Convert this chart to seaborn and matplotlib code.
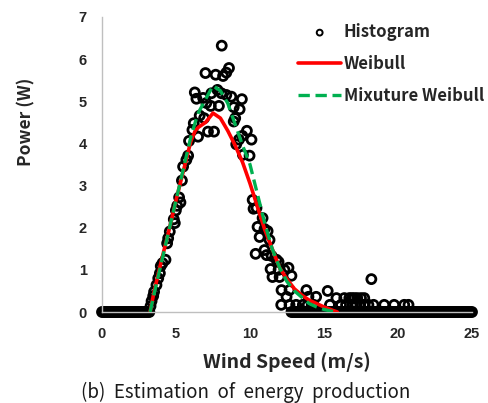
import numpy as np
import pandas as pd
import matplotlib
matplotlib.use("Agg")
import matplotlib.pyplot as plt
import seaborn as sns

# ---- data ----
hist_x = [3.28, 3.35, 3.46, 3.52, 3.68, 3.80, 3.91, 3.97, 4.09, 4.29, 4.40, 4.47, 4.58, 4.85, 4.92,
          4.99, 5.08, 5.21, 5.30, 5.40, 5.48, 5.70, 5.82, 5.88, 6.11, 6.20, 6.49, 6.60, 6.90, 6.27,
          6.38, 6.83, 6.99, 7.05, 7.16, 7.35, 7.39, 7.57, 7.68, 7.80, 7.90, 8.07, 8.09, 8.18, 8.40,
          8.58, 8.40, 8.74, 8.90, 9.00, 8.90, 9.07, 9.25, 9.30, 9.45, 9.48, 9.52, 9.79, 9.97, 10.10,
          10.18, 10.24, 10.44, 10.85, 10.51, 10.98, 10.65, 11.19, 11.32, 10.98, 10.38, 11.12, 11.46,
          11.79, 11.93, 11.39, 11.52, 11.93, 12.00, 12.33, 12.60, 12.80, 12.13, 12.67, 12.47,
          13.81, 13.95, 14.47, 15.25, 15.84, 16.37, 16.71, 16.88, 17.05, 17.25, 17.50, 17.72, 18.20,
          12.11, 12.67, 13.12, 13.57, 13.90, 14.30, 15.40, 16.15, 16.49, 16.93, 17.20, 17.45, 17.70,
          18.00, 18.35, 19.07, 19.74, 20.42, 20.71]
hist_y = [0.14, 0.26, 0.38, 0.48, 0.64, 0.80, 0.92, 1.09, 1.16, 1.24, 1.63, 1.75, 1.91, 2.20, 2.11,
          2.41, 2.52, 2.72, 2.60, 3.12, 3.45, 3.61, 3.71, 4.06, 4.32, 4.48, 4.16, 4.66, 4.60, 5.21,
          5.06, 5.08, 5.67, 4.96, 4.28, 4.89, 5.19, 4.28, 5.63, 5.27, 4.89, 5.19, 6.32, 5.60, 5.68,
          5.79, 5.15, 5.11, 4.86, 4.60, 4.52, 3.98, 4.09, 4.81, 5.05, 4.18, 3.73, 4.30, 3.71, 4.09,
          2.66, 2.45, 2.47, 2.23, 2.02, 1.97, 1.78, 1.92, 1.71, 1.47, 1.38, 1.35, 1.33,
          1.24, 1.19, 1.02, 0.83, 1.00, 0.83, 1.00, 1.05, 0.86, 0.52, 0.52, 0.36,
          0.52, 0.36, 0.36, 0.50, 0.33, 0.33, 0.33, 0.33, 0.33, 0.33, 0.33, 0.33, 0.78,
          0.17, 0.17, 0.17, 0.17, 0.17, 0.17, 0.17, 0.17, 0.17, 0.17, 0.17, 0.17, 0.17,
          0.17, 0.17, 0.17, 0.17, 0.17, 0.17]
zero_x = [0.0, 0.1, 0.2, 0.3, 0.4, 0.5, 0.6, 0.7, 0.8, 0.9, 1.0, 1.1, 1.2, 1.3, 1.4, 1.5, 1.6,
          1.7, 1.8, 1.9, 2.0, 2.1, 2.2, 2.3, 2.4, 2.5, 2.6, 2.7, 2.8, 2.9, 3.0, 3.1, 3.2,
          12.8, 12.9, 13.0, 13.1, 13.2, 13.3, 13.4, 13.5, 13.6, 13.7, 13.8, 13.9, 14.0, 14.1,
          14.2, 14.3, 14.4, 14.5, 14.6, 14.7, 14.8, 14.9, 15.0, 15.1, 15.2, 15.3, 15.4, 15.5,
          15.6, 15.7, 15.8, 15.9, 16.0, 16.1, 16.2, 16.3, 16.4, 16.5, 16.6, 16.7, 16.8, 16.9,
          17.0, 17.1, 17.2, 17.3, 17.4, 17.5, 17.6, 17.7, 17.8, 17.9, 18.0, 18.1, 18.2, 18.3,
          18.4, 18.5, 18.6, 18.7, 18.8, 18.9, 19.0, 19.1, 19.2, 19.3, 19.4, 19.5, 19.6, 19.7,
          19.8, 19.9, 20.0, 20.1, 20.2, 20.3, 20.4, 20.5, 20.6, 20.7, 20.8, 20.9, 21.0, 21.1,
          21.2, 21.3, 21.4, 21.5, 21.6, 21.7, 21.8, 21.9, 22.0, 22.1, 22.2, 22.3, 22.4, 22.5,
          22.6, 22.7, 22.8, 22.9, 23.0, 23.1, 23.2, 23.3, 23.4, 23.5, 23.6, 23.7, 23.8, 23.9,
          24.0, 24.1, 24.2, 24.3, 24.4, 24.5, 24.6, 24.7, 24.8, 24.9, 25.0]
zero_y = [0.0] * len(zero_x)

curve_x = [3.25, 3.5, 4.0, 4.5, 5.0, 5.5, 6.0, 6.3, 6.5, 7.0, 7.5, 8.0, 8.5, 9.0, 9.5,
           10.0, 10.5, 11.0, 11.5, 12.0, 12.5, 13.0, 13.5, 14.0, 14.5, 15.0, 15.5, 15.9]
weibull_y = [0.0, 0.45, 1.2, 1.9, 2.65, 3.35, 4.05, 4.3, 4.38, 4.5, 4.72, 4.6, 4.3, 3.95,
             3.55, 3.05, 2.5, 1.95, 1.5, 1.05, 0.78, 0.55, 0.4, 0.28, 0.2, 0.12, 0.05, 0.0]
mixture_y = [0.0, 0.4, 1.15, 1.9, 2.65, 3.4, 4.15, 4.5, 4.72, 5.05, 5.37, 5.25, 4.95,
             4.45, 3.95, 3.5, 2.8, 2.1, 1.5, 1.05, 0.72, 0.5, 0.35, 0.2, 0.12, 0.06, 0.02, 0.0]

x_ticks = [0, 5, 10, 15, 20, 25]
y_ticks = [0, 1, 2, 3, 4, 5, 6, 7]

pts = pd.DataFrame({"speed": zero_x + hist_x, "power": zero_y + hist_y})
curves = pd.DataFrame({"speed": curve_x, "weibull": weibull_y, "mixture": mixture_y})

sns.set_theme(style="white")
plt.rcParams["font.family"] = ["Liberation Sans", "DejaVu Sans"]
KR = ["Noto Sans CJK KR", "DejaVu Sans"]

fig = plt.figure(figsize=(4.89, 4.03), dpi=100)
ax = fig.add_axes([102 / 489, 91 / 403, 370 / 489, 295 / 403])

sns.scatterplot(data=pts, x="speed", y="power", ax=ax, marker="o", s=42,
                facecolor="none", edgecolor="black", linewidth=2.0,
                label="Histogram", clip_on=False, zorder=2)
sns.lineplot(data=curves, x="speed", y="weibull", ax=ax, color="#FF0000", linewidth=2.6,
             sort=False, estimator=None, label="Weibull", zorder=3)
sns.lineplot(data=curves, x="speed", y="mixture", ax=ax, color="#00B050", linewidth=2.4,
             linestyle=(0, (3.4, 1.7)), sort=False, estimator=None,
             label="Mixuture Weibull", zorder=4)

ax.set_xlim(0, 25)
ax.set_ylim(0, 7)
ax.set_xticks(x_ticks)
ax.set_yticks(y_ticks)
ax.tick_params(axis="both", length=0, labelsize=10.5, pad=11)
for lab in ax.get_xticklabels() + ax.get_yticklabels():
    lab.set_fontweight("bold")
for s in ["top", "right"]:
    ax.spines[s].set_visible(False)
for s in ["left", "bottom"]:
    ax.spines[s].set_color("#BFBFBF")
    ax.spines[s].set_linewidth(1.0)

ax.set_xlabel("Wind Speed (m/s)", fontsize=14, fontweight="bold", family=KR)
ax.set_ylabel("Power (W)", fontsize=12.5, fontweight="bold", family=KR)
ax.xaxis.label.set_va("baseline")
ax.xaxis.set_label_coords(0.5, (312 - 368) / 295)
ax.yaxis.label.set_va("center")
ax.yaxis.set_label_coords((26 - 102) / 370, 0.645)

leg = ax.legend(loc="upper left", bbox_to_anchor=(298 / 489, 1 - 23 / 403),
                bbox_transform=fig.transFigure, frameon=False, borderpad=0,
                borderaxespad=0, handlelength=2.6, handletextpad=0.15,
                labelspacing=0.85, markerscale=0.65,
                prop={"family": KR, "weight": "bold", "size": 12})
leg.legend_handles[0].set_linewidth(1.4)

fig.text(246 / 489, 1 - 398 / 403, "(b)  Estimation  of  energy  production",
         ha="center", va="baseline", fontsize=13.5, color="#1a1a1a", family=KR)

fig.savefig("out.png", dpi=100)
